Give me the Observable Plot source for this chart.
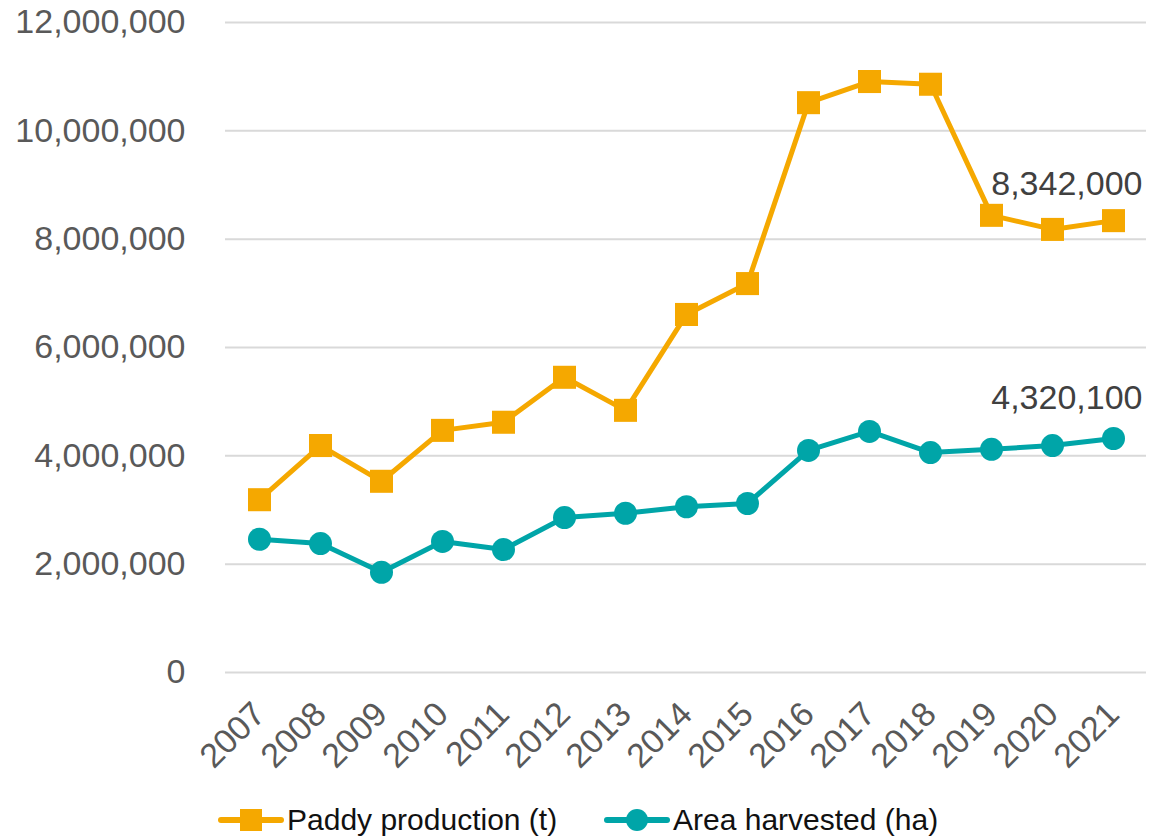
<!DOCTYPE html>
<html><head><meta charset="utf-8">
<script src="https://cdn.jsdelivr.net/npm/d3@7"></script>
<script src="https://cdn.jsdelivr.net/npm/@observablehq/plot@0.6"></script>
<style>
body{margin:0;background:#fff;font-family:"Liberation Sans",Arial,Helvetica,sans-serif;}
#wrap{position:relative;width:1153px;height:839px;overflow:hidden;}
.leg{position:absolute;top:800px;height:40px;display:flex;align-items:center;font-size:30px;color:#111;white-space:nowrap;}
.leg svg{margin-right:3px;}
</style></head><body>
<div id="wrap"><div id="chart"></div>
<div class="leg" style="left:218px"><svg width="66" height="30"><line x1="3" y1="15" x2="63" y2="15" stroke="#F5A800" stroke-width="6" stroke-linecap="round"/><rect x="22" y="4" width="22" height="22" fill="#F5A800"/></svg>Paddy production (t)</div>
<div class="leg" style="left:604px"><svg width="66" height="30"><line x1="3" y1="15" x2="63" y2="15" stroke="#00A5A8" stroke-width="6" stroke-linecap="round"/><circle cx="33" cy="15" r="11" fill="#00A5A8"/></svg>Area harvested (ha)</div>
</div>
<script>
const years = ["2007","2008","2009","2010","2011","2012","2013","2014","2015","2016","2017","2018","2019","2020","2021"];
const paddy = [3190000,4190000,3530000,4470000,4620000,5450000,4840000,6610000,7180000,10520000,10910000,10860000,8440000,8180000,8342000];
const area  = [2460000,2380000,1850000,2420000,2270000,2860000,2940000,3060000,3120000,4100000,4450000,4060000,4120000,4190000,4320100];
const yTicks = [0,2000000,4000000,6000000,8000000,10000000,12000000];

const orange = "#F5A800", teal = "#00A5A8";
const pRows = years.map((y,i)=>({year:y, v:paddy[i]}));
const aRows = years.map((y,i)=>({year:y, v:area[i]}));
const last = years.length-1;
const fmt = d3.format(",");

const chart = Plot.plot({
  width:1153, height:790,
  marginLeft:225, marginRight:7, marginTop:22, marginBottom:118,
  style:{fontFamily:'"Liberation Sans",Arial,Helvetica,sans-serif', fontSize:"34px", color:"#595959", background:"#fff", overflow:"visible"},
  x:{type:"point", domain:years, padding:0.5, label:null},
  y:{domain:[0,12000000], label:null},
  marks:[
    Plot.gridY(yTicks,{stroke:"#d9d9d9", strokeOpacity:1, strokeWidth:2}),
    Plot.axisY(yTicks,{tickSize:0, tickPadding:40, tickFormat:fmt, fontSize:34, fill:"#595959"}),
    Plot.axisX({tickSize:0, tickRotate:-45, tickPadding:36, fontSize:34, fill:"#595959"}),
    Plot.line(aRows,{x:"year", y:"v", stroke:teal, strokeWidth:5}),
    Plot.dot(aRows,{x:"year", y:"v", r:11.5, fill:teal, symbol:"circle"}),
    Plot.line(pRows,{x:"year", y:"v", stroke:orange, strokeWidth:5}),
    Plot.dot(pRows,{x:"year", y:"v", r:13, fill:orange, symbol:"square"}),
    Plot.text([pRows[last]],{x:"year", y:"v", text:d=>fmt(d.v), textAnchor:"end", dx:29, dy:-37, fontSize:34, fill:"#404040"}),
    Plot.text([aRows[last]],{x:"year", y:"v", text:d=>fmt(d.v), textAnchor:"end", dx:29, dy:-40, fontSize:34, fill:"#404040"})
  ]
});
document.getElementById("chart").append(chart);
</script>
</body></html>
